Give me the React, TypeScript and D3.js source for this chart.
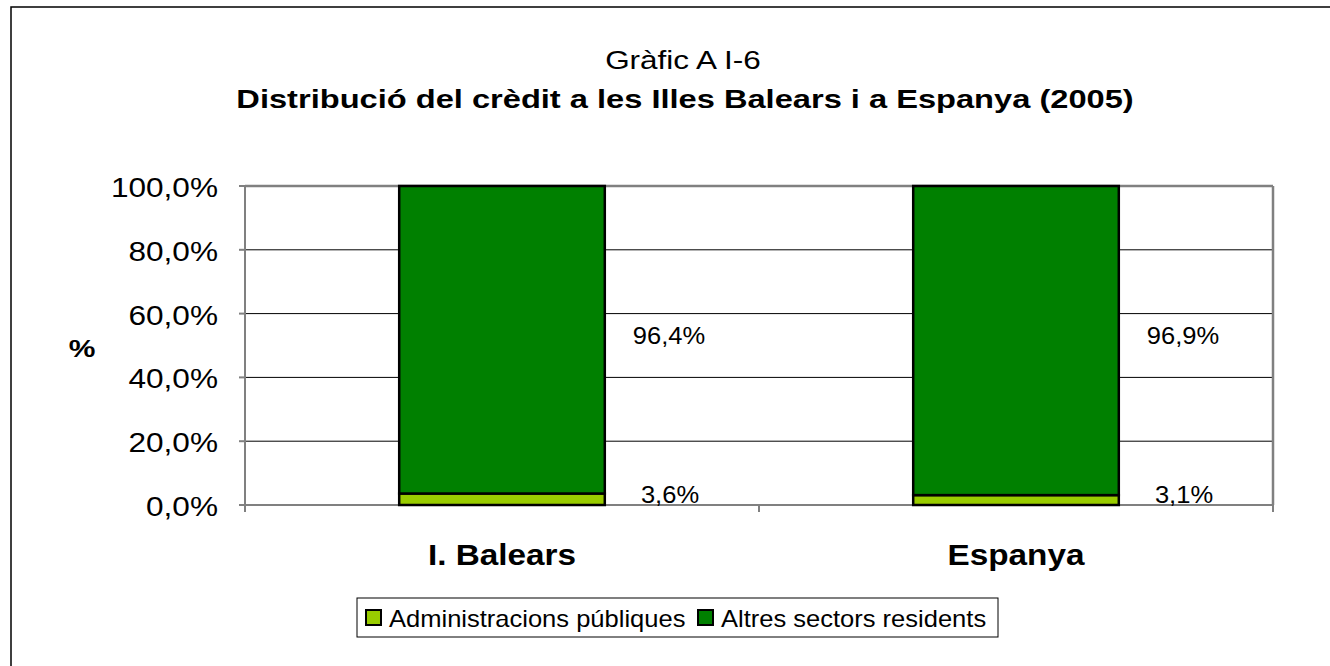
import React from "react";
import * as d3 from "d3";

const categories = ["I. Balears", "Espanya"];
const seriesNames = ["Administracions públiques", "Altres sectors residents"];
const adminValues = [3.6, 3.1];
const altresValues = [96.4, 96.9];
const yTicks = [0, 20, 40, 60, 80, 100];
const colors = ["#99CC00", "#008000"];

const W = 1330;
const H = 666;
const font = "'Liberation Sans', Arial, sans-serif";

function T(props: { x: number; y: number; size: number; sx: number; anchor?: string; bold?: boolean; children: any }) {
  const { x, y, size, sx, anchor, bold, children } = props;
  return (
    <text
      transform={`translate(${x},${y}) scale(${sx},1)`}
      textAnchor={anchor || "start"}
      fontSize={size}
      fontWeight={bold ? "bold" : "normal"}
      fill="#000"
    >
      {children}
    </text>
  );
}

export default function App() {
  const plot = { left: 245, right: 1273, top: 186, bottom: 505 };
  const x = d3.scaleBand<string>().domain(categories).range([plot.left, plot.right]).paddingInner(0.6).paddingOuter(0.3);
  const xOuter = d3.scaleBand<string>().domain(categories).range([plot.left, plot.right]);
  const y = d3.scaleLinear().domain([0, 100]).range([plot.bottom, plot.top]);
  const fmt = (v: number) => v.toFixed(1).replace(".", ",") + "%";

  const data = categories.map((c, i) => ({ cat: c, vals: [adminValues[i], altresValues[i]] }));
  const stack = d3.stack<any>().keys(["0", "1"]).value((d: any, k: string) => d.vals[+k]);
  const stacked = stack(data as any);

  return (
    <svg width={W} height={H} style={{ position: "absolute", left: 0, top: 0, display: "block", background: "#fff" }} fontFamily={font}>
      <rect x={11} y={7} width={W + 20} height={H + 20} fill="#fff" stroke="#000" strokeWidth={1.5} />
      <T x={683} y={69} size={25} sx={1.26} anchor="middle">Gràfic A I-6</T>
      <T x={685} y={108} size={25.5} sx={1.28} anchor="middle" bold>
        Distribució del crèdit a les Illes Balears i a Espanya (2005)
      </T>

      {yTicks.filter((t) => t > 0 && t < 100).map((t) => (
        <line key={"g" + t} x1={plot.left} x2={plot.right} y1={y(t)} y2={y(t)} stroke="#000" strokeWidth={1} />
      ))}
      <line x1={plot.left} x2={plot.right} y1={plot.top} y2={plot.top} stroke="#808080" strokeWidth={2.5} />
      <line x1={plot.right} x2={plot.right} y1={plot.top} y2={plot.bottom} stroke="#808080" strokeWidth={2.5} />
      <line x1={plot.left} x2={plot.left} y1={plot.top} y2={plot.bottom} stroke="#808080" strokeWidth={2} />
      <line x1={plot.left} x2={plot.right} y1={plot.bottom} y2={plot.bottom} stroke="#808080" strokeWidth={2} />
      {yTicks.map((t) => (
        <g key={"t" + t}>
          <line x1={plot.left - 6} x2={plot.left} y1={y(t)} y2={y(t)} stroke="#808080" strokeWidth={2} />
          <T x={218} y={y(t) + 11} size={27} sx={1.17} anchor="end">{fmt(t)}</T>
        </g>
      ))}
      {[plot.left, ...categories.map((c) => (xOuter(c) as number) + xOuter.bandwidth())].map((px, i) => (
        <line key={"xt" + i} x1={px} x2={px} y1={plot.bottom} y2={plot.bottom + 7} stroke="#808080" strokeWidth={2} />
      ))}
      <T x={82} y={357} size={24} sx={1.25} anchor="middle" bold>%</T>

      {stacked.map((s, si) =>
        s.map((d: any, i: number) => (
          <rect
            key={si + "-" + i}
            x={x(categories[i]) as number}
            y={y(d[1])}
            width={x.bandwidth()}
            height={y(d[0]) - y(d[1])}
            fill={colors[si]}
            stroke="#000"
            strokeWidth={2.5}
          />
        ))
      )}

      {categories.map((c, i) => {
        const cx = (x(c) as number) + x.bandwidth() / 2;
        return (
          <g key={"l" + c}>
            <T x={cx + 167} y={344} size={23} sx={1.11} anchor="middle">{fmt(altresValues[i])}</T>
            <T x={cx + 168} y={503} size={23} sx={1.11} anchor="middle">{fmt(adminValues[i])}</T>
            <T x={cx} y={565} size={30} sx={1.11} anchor="middle" bold>{c}</T>
          </g>
        );
      })}

      <rect x={357} y={598} width={641} height={39} fill="#fff" stroke="#000" strokeWidth={1} />
      {seriesNames.map((n, i) => {
        const lx = i === 0 ? 366 : 698;
        return (
          <g key={"lg" + i}>
            <rect x={lx} y={610} width={15} height={15} fill={colors[i]} stroke="#000" strokeWidth={2} />
            <T x={lx + 23} y={627} size={23} sx={1.11}>{n}</T>
          </g>
        );
      })}
    </svg>
  );
}
